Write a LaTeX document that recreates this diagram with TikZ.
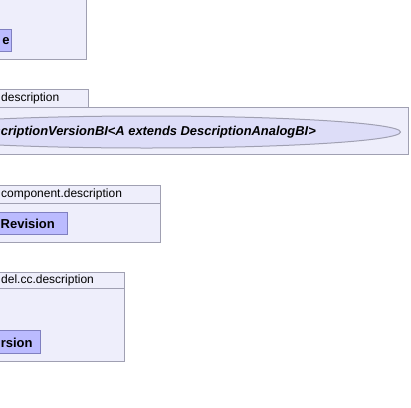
\documentclass[tikz,border=0pt]{standalone}
\usepackage{fontspec}
\setmainfont{Liberation Sans}
\definecolor{pkgfill}{RGB}{238,238,251}
\definecolor{pkgline}{RGB}{160,160,178}
\definecolor{clsfill}{RGB}{187,187,255}
\definecolor{clsline}{RGB}{128,128,192}
\definecolor{ellfill}{RGB}{221,221,248}
\tikzset{
  pkg/.style={draw=pkgline, fill=pkgfill, line width=1pt},
  cls/.style={draw=clsline, fill=clsfill, line width=1pt},
  ell/.style={draw=pkgline, fill=ellfill, line width=1pt},
  tablbl/.style={font=\fontsize{12}{14}\selectfont, anchor=west, inner sep=0pt},
  clslbl/.style={font=\fontsize{13}{15}\selectfont\bfseries, inner sep=0pt},
  elllbl/.style={font=\fontsize{12.9}{15}\selectfont\bfseries\itshape, inner sep=0pt}
}
\begin{document}
\begin{tikzpicture}[x=1pt,y=-1pt]
\useasboundingbox (0,0) rectangle (411,407);
\clip (0,0) rectangle (411,407);
% package 1
\draw[pkg] (-20,-20) rectangle (86.5,59.5);
\draw[cls] (-20,29.5) rectangle (11.5,51.5);
\node[clslbl, anchor=east] (c1) at (9.8,41) {e};
% package 2
\draw[pkg] (-20,89.5) rectangle (88,107);
\draw[pkg] (-20,107) rectangle (408.5,154.5);
\node[tablbl] (t2) at (1,98.5) {description};
\draw[ell] (146.5,132) ellipse [x radius=254pt, y radius=16pt];
\node[elllbl] (e2) at (146.5,132.5) {DescriptionVersionBI<A extends DescriptionAnalogBI>};
% package 3
\draw[pkg] (-20,185) rectangle (160.5,203.5);
\draw[pkg] (-20,203.5) rectangle (160.5,242);
\node[tablbl] (t3) at (1,194.5) {component.description};
\draw[cls] (-20,212) rectangle (67,234.5);
\node[clslbl, anchor=west] (c3) at (0.5,223.5) {Revision};
% package 4
\draw[pkg] (-20,272) rectangle (124.5,288.5);
\draw[pkg] (-20,288.5) rectangle (124.5,361);
\node[tablbl] (t4) at (1,280.5) {del.cc.description};
\draw[cls] (-20,330.5) rectangle (40.5,353.5);
\node[clslbl, anchor=east] (c4) at (32.8,342.5) {rsion};
\end{tikzpicture}
\end{document}
